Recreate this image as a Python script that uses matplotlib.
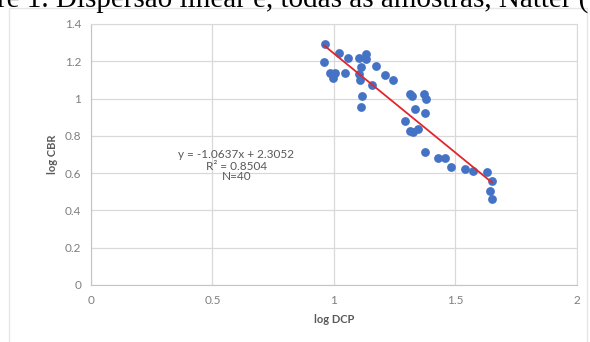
import numpy as np
import matplotlib.pyplot as plt
from matplotlib.patches import Rectangle

# log DCP / log CBR (N=40)
log_dcp = [0.965, 0.958, 1.020, 1.058, 0.983, 1.003, 0.997, 1.045, 1.102, 1.130,
           1.130, 1.113, 1.102, 1.109, 1.175, 1.210, 1.244, 1.157, 1.116, 1.113,
           1.313, 1.320, 1.370, 1.380, 1.332, 1.373, 1.291, 1.313, 1.326, 1.345,
           1.373, 1.428, 1.457, 1.480, 1.540, 1.574, 1.629, 1.649, 1.641, 1.649]
log_cbr = [1.291, 1.196, 1.244, 1.218, 1.139, 1.139, 1.111, 1.139, 1.218, 1.237,
           1.214, 1.169, 1.134, 1.098, 1.173, 1.128, 1.102, 1.071, 1.014, 0.955,
           1.023, 1.014, 1.023, 0.996, 0.943, 0.920, 0.878, 0.825, 0.821, 0.839,
           0.714, 0.682, 0.682, 0.634, 0.621, 0.611, 0.604, 0.557, 0.503, 0.459]
slope = -1.0637
intercept = 2.3052
r2 = 0.8504
x_ticks = [0, 0.5, 1, 1.5, 2]
y_ticks = [0, 0.2, 0.4, 0.6, 0.8, 1, 1.2, 1.4]

plt.rcParams['font.family'] = ['Lato', 'DejaVu Sans']

fig = plt.figure(figsize=(5.9, 3.42), dpi=100)
ax = fig.add_axes([0.1542, 0.1667, 0.8237, 0.7632])

# caption of the page, cut off at the top of the picture as in the scan
fig.text(-0.005, 1 - 7 / 342, 're 1. Dispersão linear e, todas as amostras, Natter (',
         family='Liberation Serif', fontsize=21, va='baseline', ha='left', color='black')

# faint chart border
fig.patches.append(Rectangle((9 / 590, -0.1), 578 / 590, 1.1 - 8 / 342,
                             transform=fig.transFigure, fill=False,
                             edgecolor='#e6e6e6', linewidth=1))

ax.scatter(log_dcp, log_cbr, s=40, color='#4472C4', zorder=3, linewidths=0)
xl = np.array([min(log_dcp), max(log_dcp)])
ax.plot(xl, slope * xl + intercept, color='#E3262B', linewidth=1.3, zorder=4)

ax.set_xlim(0, 2)
ax.set_ylim(0, 1.4)
ax.set_xticks(x_ticks)
ax.set_yticks(y_ticks)
ax.set_xticklabels([f'{v:g}' for v in x_ticks])
ax.set_yticklabels([f'{v:g}' for v in y_ticks])
ax.tick_params(length=0, labelsize=8.5, labelcolor='#7f7f7f', pad=7)
ax.grid(color='#d9d9d9', linewidth=0.9)
ax.set_axisbelow(True)
for s in ax.spines.values():
    s.set_color('#d9d9d9')
ax.spines['left'].set_color('#bfc4d0')
ax.spines['bottom'].set_color('#bfc4d0')

ax.set_xlabel('log DCP', fontsize=8, fontweight='bold', color='#595959', labelpad=6)
ax.set_ylabel('log CBR', fontsize=8, fontweight='bold', color='#595959', labelpad=5)

ax.text(0.598, 0.698, f'y = {slope:.4f}x + {intercept:.4f}', ha='center', va='center',
        fontsize=8.5, color='#595959')
ax.text(0.598, 0.637, f'R² = {r2:.4f}', ha='center', va='center', fontsize=8.5, color='#595959')
ax.text(0.598, 0.584, f'N={len(log_dcp)}', ha='center', va='center', fontsize=8.5, color='#595959')

fig.savefig('out.png', dpi=100)
